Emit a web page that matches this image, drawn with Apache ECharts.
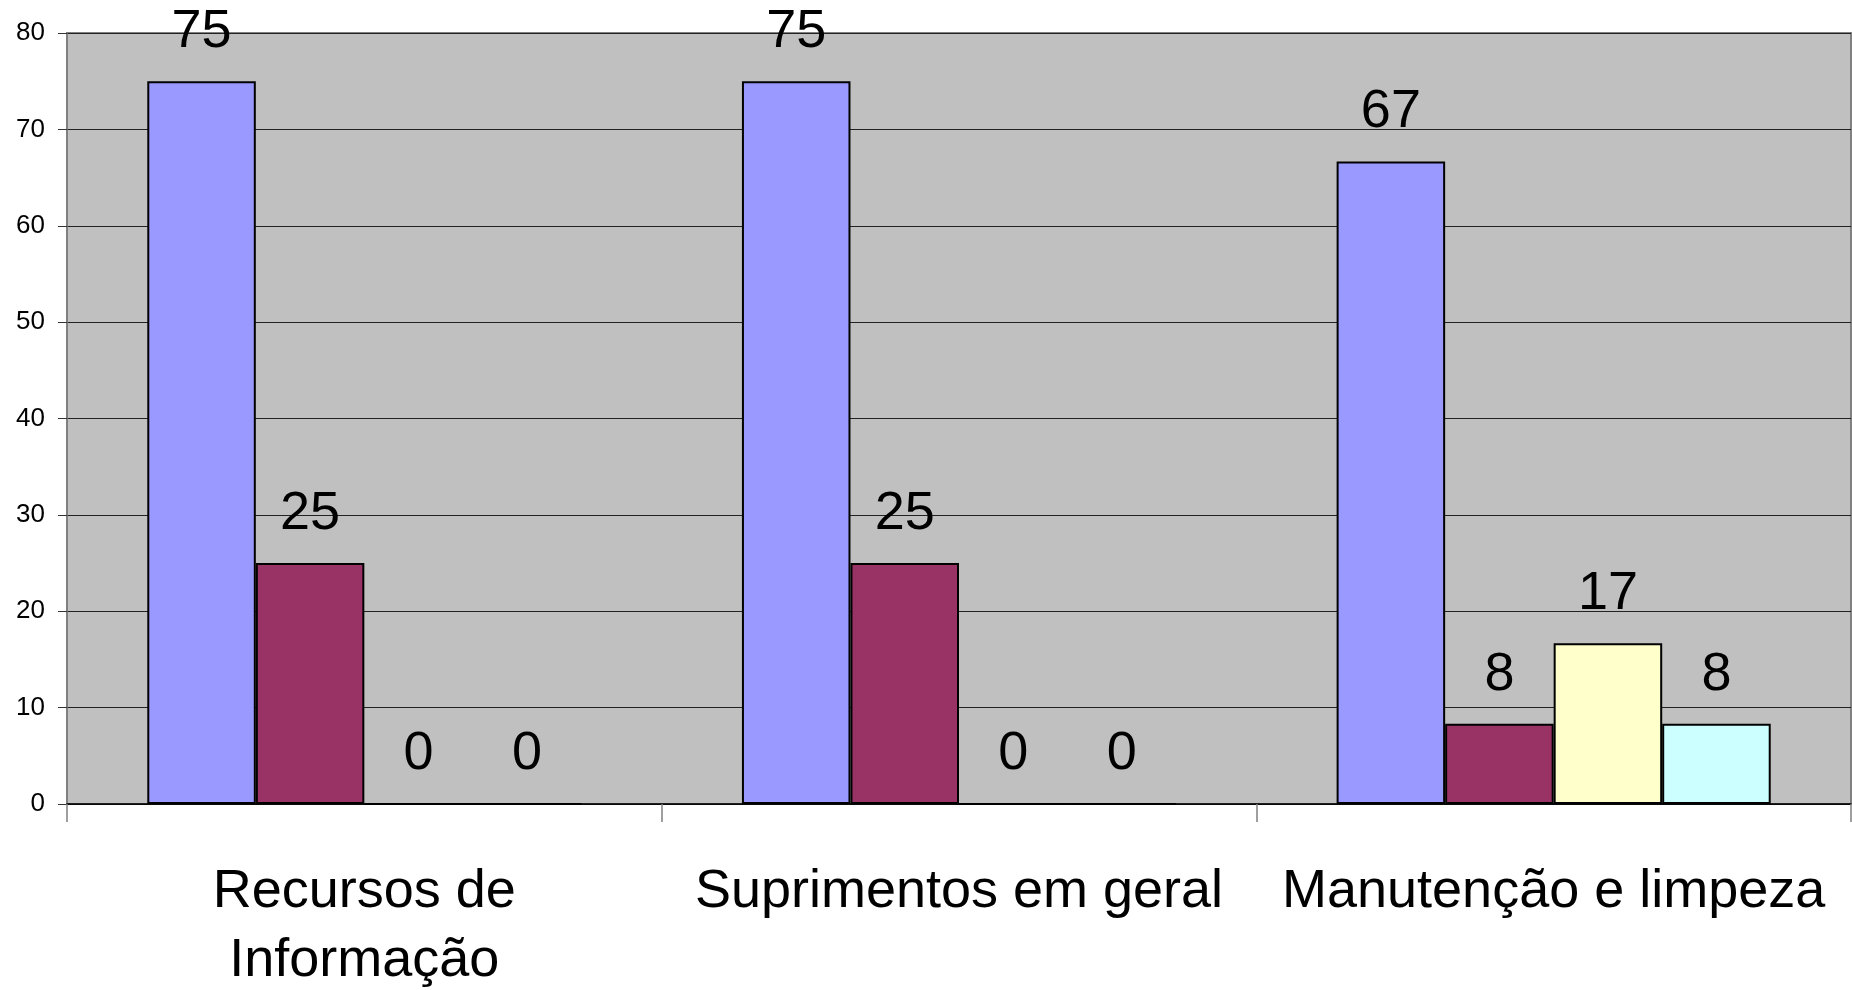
<!DOCTYPE html>
<html>
<head>
<meta charset="utf-8">
<script src="https://cdn.jsdelivr.net/npm/echarts@6/dist/echarts.min.js"></script>
<style>
  html, body { margin: 0; padding: 0; background: #fff; }
  #chart { width: 1852px; height: 990px; }
</style>
</head>
<body>
<div id="chart"></div>
<script>
// dados (%)
const categorias = ['Recursos de\nInformação', 'Suprimentos em geral', 'Manutenção e limpeza'];
const serie1 = [75, 75, 66.67];
const serie2 = [25, 25, 8.33];
const serie3 = [0, 0, 16.67];
const serie4 = [0, 0, 8.33];
const cores = ['#9999FF', '#993366', '#FFFFCC', '#CCFFFF'];

const fonte = 'Liberation Sans, Arial, sans-serif';

function serie(nome, dados, cor) {
  return {
    name: nome,
    type: 'bar',
    data: dados,
    barGap: 0,
    barCategoryGap: '27%',
    itemStyle: { color: cor, borderColor: '#000', borderWidth: 2 },
    label: {
      show: true,
      position: 'top',
      distance: 22,
      fontSize: 54,
      fontFamily: fonte,
      color: '#000',
      formatter: (p) => Math.round(p.value)
    }
  };
}

let myChart = echarts.init(document.getElementById('chart'));
myChart.setOption({
  animation: false,
  backgroundColor: '#fff',
  grid: {
    left: 67,
    right: 1,
    top: 33,
    bottom: 186,
    outerBoundsMode: 'none',
    show: true,
    backgroundColor: '#C0C0C0',
    borderColor: '#808080',
    borderWidth: 2
  },
  xAxis: {
    type: 'category',
    data: categorias,
    axisLine: { lineStyle: { color: '#000', width: 1.5 } },
    axisTick: { show: true, length: 18, lineStyle: { color: '#808080', width: 1.5 } },
    axisLabel: {
      interval: 0,
      margin: 54,
      fontSize: 54,
      lineHeight: 69,
      fontFamily: fonte,
      color: '#000'
    }
  },
  yAxis: {
    type: 'value',
    min: 0,
    max: 80,
    interval: 10,
    axisLine: { show: true, lineStyle: { color: '#808080', width: 1.5 } },
    axisTick: { show: true, length: 9, lineStyle: { color: '#333' } },
    axisLabel: { margin: 22, fontSize: 26, fontFamily: fonte, color: '#000' },
    splitLine: { lineStyle: { color: '#222', width: 1 } }
  },
  series: [
    serie('Série 1', serie1, cores[0]),
    serie('Série 2', serie2, cores[1]),
    serie('Série 3', serie3, cores[2]),
    serie('Série 4', serie4, cores[3])
  ]
});
</script>
</body>
</html>
